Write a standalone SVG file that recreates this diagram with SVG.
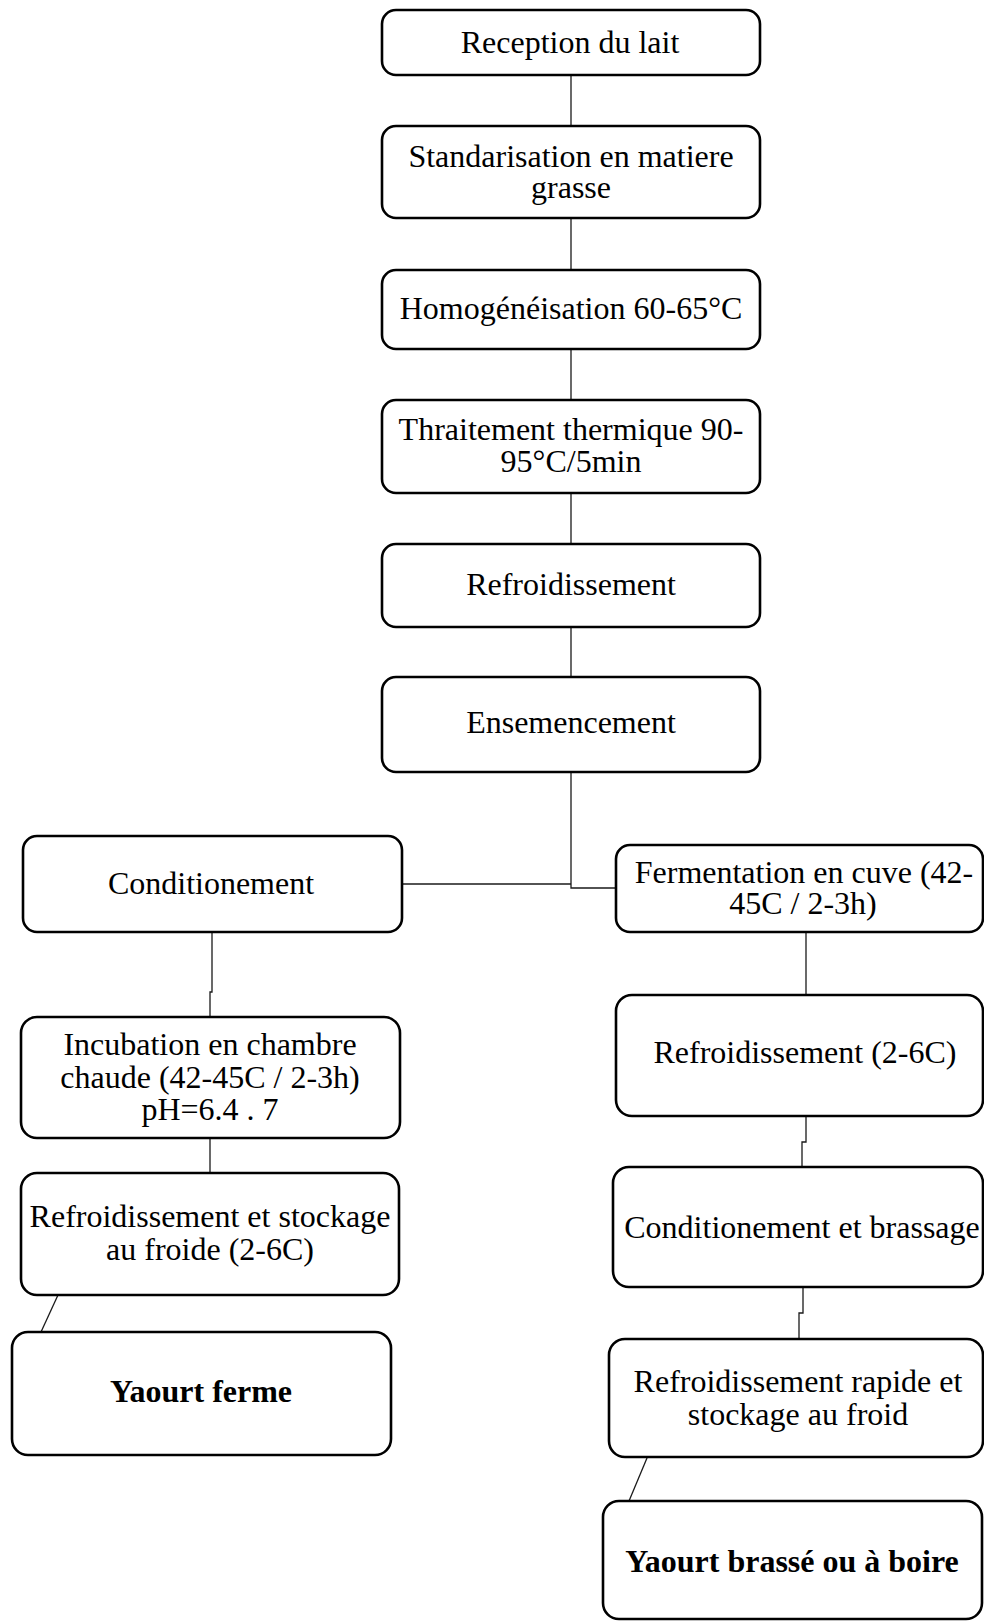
<svg xmlns="http://www.w3.org/2000/svg" width="984" height="1621" viewBox="0 0 984 1621">
  <style>
    .box { fill: #ffffff; stroke: #000000; stroke-width: 2.6; }
    .lbl { font-family: "Liberation Serif", "Times New Roman", serif; font-size: 32px; fill: #000000; text-anchor: middle; }
    .bold { font-weight: bold; }
    .link { fill: none; stroke: #1a1a1a; stroke-width: 1.3; }
  </style>
  <rect width="984" height="1621" fill="#ffffff"/>

  <!-- connectors -->
  <g id="connectors" class="link">
    <line x1="571" y1="75" x2="571" y2="126"/>
    <line x1="571" y1="218" x2="571" y2="270"/>
    <line x1="571" y1="349" x2="571" y2="400"/>
    <line x1="571" y1="493" x2="571" y2="544"/>
    <line x1="571" y1="627" x2="571" y2="677"/>
    <polyline points="571,772 571,888 616,888"/>
    <line x1="402" y1="884" x2="571" y2="884"/>
    <polyline points="212,932 212,992 210,992 210,1017"/>
    <line x1="210" y1="1138" x2="210" y2="1173"/>
    <line x1="58" y1="1295" x2="41" y2="1332"/>
    <line x1="806" y1="932" x2="806" y2="995"/>
    <polyline points="806,1116 806,1142 802,1142 802,1167"/>
    <polyline points="803,1287 803,1313 799,1313 799,1339"/>
    <line x1="647" y1="1458" x2="629" y2="1501"/>
  </g>

  <!-- main line -->
  <g id="reception">
    <rect class="box" x="382" y="10" width="378" height="65" rx="14"/>
    <text class="lbl" x="570" y="53">Reception du lait</text>
  </g>
  <g id="standardisation">
    <rect class="box" x="382" y="126" width="378" height="92" rx="14"/>
    <text class="lbl" x="571" y="167">Standarisation en matiere</text>
    <text class="lbl" x="571" y="198">grasse</text>
  </g>
  <g id="homogeneisation">
    <rect class="box" x="382" y="270" width="378" height="79" rx="14"/>
    <text class="lbl" x="571" y="319">Homogénéisation 60-65°C</text>
  </g>
  <g id="traitement">
    <rect class="box" x="382" y="400" width="378" height="93" rx="14"/>
    <text class="lbl" x="571" y="440">Thraitement thermique 90-</text>
    <text class="lbl" x="571" y="472">95°C/5min</text>
  </g>
  <g id="refroidissement">
    <rect class="box" x="382" y="544" width="378" height="83" rx="14"/>
    <text class="lbl" x="571" y="595">Refroidissement</text>
  </g>
  <g id="ensemencement">
    <rect class="box" x="382" y="677" width="378" height="95" rx="14"/>
    <text class="lbl" x="571" y="733">Ensemencement</text>
  </g>

  <!-- left branch: yaourt ferme -->
  <g id="conditionement">
    <rect class="box" x="23" y="836" width="379" height="96" rx="14"/>
    <text class="lbl" x="211" y="894">Conditionement</text>
  </g>
  <g id="incubation">
    <rect class="box" x="21" y="1017" width="379" height="121" rx="16"/>
    <text class="lbl" x="210" y="1055">Incubation en chambre</text>
    <text class="lbl" x="210" y="1088">chaude (42-45C / 2-3h)</text>
    <text class="lbl" x="210" y="1120">pH=6.4 . 7</text>
  </g>
  <g id="refroid-stockage">
    <rect class="box" x="21" y="1173" width="378" height="122" rx="16"/>
    <text class="lbl" x="210" y="1227">Refroidissement et stockage</text>
    <text class="lbl" x="210" y="1260">au froide (2-6C)</text>
  </g>
  <g id="yaourt-ferme">
    <rect class="box" x="12" y="1332" width="379" height="123" rx="16"/>
    <text class="lbl bold" x="201" y="1402">Yaourt ferme</text>
  </g>

  <!-- right branch: yaourt brassé -->
  <g id="fermentation">
    <rect class="box" x="616" y="845" width="367" height="87" rx="14"/>
    <text class="lbl" x="804" y="883">Fermentation en cuve (42-</text>
    <text class="lbl" x="803" y="914">45C / 2-3h)</text>
  </g>
  <g id="refroid-2-6">
    <rect class="box" x="616" y="995" width="367" height="121" rx="16"/>
    <text class="lbl" x="805" y="1063">Refroidissement (2-6C)</text>
  </g>
  <g id="cond-brassage">
    <rect class="box" x="613" y="1167" width="370" height="120" rx="16"/>
    <text class="lbl" x="802" y="1238">Conditionement et brassage</text>
  </g>
  <g id="refroid-rapide">
    <rect class="box" x="609" y="1339" width="374" height="118" rx="16"/>
    <text class="lbl" x="798" y="1392">Refroidissement rapide et</text>
    <text class="lbl" x="798" y="1425">stockage au froid</text>
  </g>
  <g id="yaourt-brasse">
    <rect class="box" x="603" y="1501" width="379" height="118" rx="16"/>
    <text class="lbl bold" x="792" y="1572">Yaourt brassé ou à boire</text>
  </g>
</svg>
